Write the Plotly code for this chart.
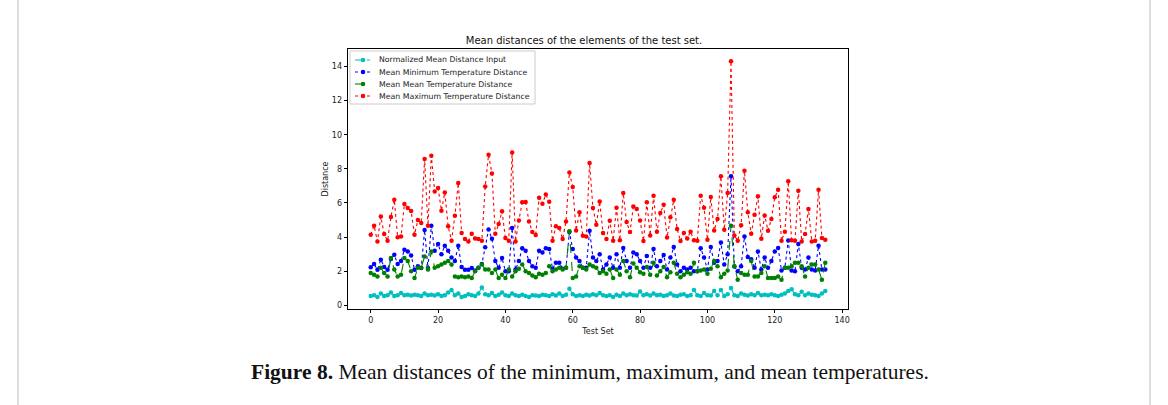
import plotly.graph_objects as go

test_set = list(range(136))

normalized_input = [
    0.55, 0.6, 0.5, 0.7, 0.55, 0.6, 0.75, 0.55, 0.6, 0.72,
    0.6, 0.62, 0.58, 0.62, 0.6, 0.55, 0.7, 0.6, 0.62, 0.58,
    0.65, 0.55, 0.6, 0.75, 0.9, 0.6, 0.7, 0.5, 0.55, 0.65,
    0.6, 0.55, 0.7, 1.05, 0.65, 0.6, 0.72, 0.55, 0.62, 0.75,
    0.6, 0.55, 0.7, 0.6, 0.55, 0.62, 0.55, 0.5, 0.6, 0.58,
    0.55, 0.62, 0.6, 0.55, 0.65, 0.58, 0.7, 0.55, 0.62, 0.98,
    0.65, 0.55, 0.6, 0.55, 0.62, 0.58, 0.65, 0.6, 0.72, 0.6,
    0.55, 0.6, 0.5, 0.62, 0.55, 0.7, 0.6, 0.65, 0.6, 0.58,
    0.82, 0.6, 0.65, 0.58, 0.7, 0.6, 0.62, 0.55, 0.6, 0.7,
    0.58, 0.55, 0.62, 0.65, 0.55, 0.6, 0.9, 0.6, 0.55, 0.72,
    0.6, 0.58, 0.85, 0.6, 0.9, 0.55, 0.65, 1.02, 0.6, 0.55,
    0.7, 0.62, 0.58, 0.65, 0.6, 0.72, 0.6, 0.62, 0.6, 0.65,
    0.6, 0.55, 0.62, 0.7, 0.85, 0.95, 0.65, 0.6, 0.8, 0.6,
    0.7, 0.62, 0.6, 0.55, 0.7, 0.85,
]

min_temp = [
    2.23, 2.42, 2.09, 2.68, 2.25, 2.09, 2.72, 2.97, 2.42, 2.6,
    3.26, 3.16, 2.93, 2.09, 2.29, 2.19, 4.42, 2.19, 4.67, 3.2,
    3.6, 3.0, 3.5, 3.2, 2.8, 2.6, 3.5, 2.25, 2.09, 2.09,
    2.19, 2.05, 2.2, 2.42, 3.4, 4.45, 3.9, 2.6, 2.2, 2.78,
    2.0, 2.0, 4.53, 2.1, 2.6, 3.35, 3.2, 2.6, 2.3, 2.2,
    3.2, 3.1, 3.35, 3.3, 2.15, 2.5, 2.5, 2.15, 2.2, 4.3,
    3.3, 2.8, 2.6, 2.2, 2.2, 4.37, 2.8, 2.6, 3.0, 2.1,
    2.4, 2.8, 2.2, 3.0, 2.2, 3.36, 2.6, 2.2, 3.1, 3.0,
    2.6, 2.2, 2.9, 2.2, 3.3, 2.3, 2.6, 2.95, 2.1, 2.8,
    3.42, 2.4, 2.0, 2.2, 2.1, 2.2, 2.0, 2.0, 3.35, 2.8,
    2.1, 3.42, 2.5, 2.6, 3.69, 2.4, 3.0, 7.56, 2.28, 2.0,
    2.3, 4.04, 2.83, 2.7, 2.2, 3.16, 2.1, 2.8, 2.2, 2.6,
    3.16, 3.36, 2.05, 2.2, 3.8, 2.05, 2.0, 3.6, 2.2, 2.1,
    2.8, 2.1, 2.05, 3.5, 2.1, 2.1,
]

mean_temp = [
    1.9, 1.8, 1.7, 2.2, 1.9, 1.7, 2.78, 2.1, 1.7, 1.8,
    2.78, 2.6, 2.0, 1.6, 2.2, 2.2, 2.87, 2.1, 3.16, 2.2,
    2.3, 2.4, 2.5, 2.6, 2.4, 1.7, 1.65, 1.7, 1.65, 1.7,
    1.6, 2.0, 2.2, 2.4, 2.1, 2.1, 1.9, 2.1, 1.6, 1.8,
    1.6, 2.1, 1.7, 2.0, 2.15, 2.4, 2.0, 1.9, 1.75, 1.65,
    1.85, 1.8, 1.9, 2.3, 2.0, 2.1, 2.2, 2.1, 2.2, 4.34,
    1.6, 1.7, 2.3, 2.2, 2.1, 2.4, 2.3, 2.2, 1.9, 2.0,
    1.85, 2.1, 1.6, 2.1, 1.8, 2.6, 2.0, 1.65, 2.45, 2.2,
    1.95, 1.85, 2.25, 1.8, 2.5, 1.75, 2.0, 2.25, 1.65, 1.95,
    2.5, 1.85, 1.65, 1.8, 1.95, 1.85, 2.5, 2.0, 2.05, 2.1,
    1.85, 2.15, 2.6, 2.3, 1.65, 1.85, 2.05, 4.67, 2.3, 1.5,
    1.9, 1.8, 1.8, 2.6, 1.7, 1.7, 1.9, 2.3, 1.6, 1.6,
    1.6, 1.7, 1.5, 2.2, 2.2, 2.3, 2.5, 2.5, 2.3, 1.7,
    2.2, 2.4, 2.4, 2.1, 1.5, 2.5,
]

max_temp = [
    4.14, 4.67, 3.75, 5.21, 4.18, 3.79, 5.18, 6.19, 4.0, 4.04,
    5.94, 5.7, 5.53, 4.14, 5.0, 4.83, 8.58, 4.67, 8.77, 6.68,
    6.88, 5.55, 6.62, 4.63, 3.79, 5.25, 7.17, 4.24, 3.89, 3.75,
    4.2, 3.92, 3.89, 3.79, 6.97, 8.83, 7.72, 4.2, 4.77, 5.51,
    3.95, 3.79, 8.96, 3.75, 4.98, 6.04, 6.06, 4.92, 4.3, 4.12,
    6.31, 5.96, 6.5, 6.07, 3.79, 4.63, 4.53, 3.89, 4.92, 7.79,
    6.94, 4.39, 5.45, 4.08, 4.04, 8.34, 5.7, 4.73, 6.09, 4.24,
    3.89, 4.96, 3.79, 5.72, 3.81, 6.58, 4.88, 4.3, 5.8, 5.65,
    4.98, 3.77, 6.04, 4.1, 6.43, 4.32, 5.41, 5.9, 3.98, 5.16,
    6.19, 4.47, 3.77, 4.24, 3.92, 4.32, 3.81, 3.79, 6.43, 5.72,
    3.85, 6.35, 4.39, 5.06, 7.56, 4.43, 6.58, 14.3, 4.1, 3.79,
    4.69, 7.89, 5.45, 4.2, 5.31, 6.39, 3.91, 5.27, 4.38, 5.06,
    6.33, 6.78, 3.79, 4.32, 7.27, 3.81, 3.79, 6.72, 3.75, 4.18,
    5.65, 3.75, 3.79, 6.78, 3.95, 3.85,
]

series_names = [
    "Normalized Mean Distance Input",
    "Mean Minimum Temperature Distance",
    "Mean Mean Temperature Distance",
    "Mean Maximum Temperature Distance",
]
x_ticks = [0, 20, 40, 60, 80, 100, 120, 140]
y_ticks = [0, 2, 4, 6, 8, 10, 12, 14]

colors = ["#00bfbf", "#0000ff", "#008000", "#ff0000"]
dashes = ["dashdot", "dot", "dash", "dot"]
values = [normalized_input, min_temp, mean_temp, max_temp]

# plot area geometry (pixels)
L, R, T, B = 348, 848, 49, 309
PW, PH = R - L, B - T


def px(x):
    return (x - L) / PW


def py(y):
    return (B - y) / PH


fig = go.Figure()
for name, vals, color, dash in zip(series_names, values, colors, dashes):
    fig.add_trace(go.Scatter(
        x=test_set, y=vals, name=name, mode="lines+markers",
        line=dict(color=color, width=1.1, dash=dash),
        marker=dict(color=color, size=4.5, symbol="circle"),
        showlegend=False,
    ))

font_family = "DejaVu Sans, Arial, sans-serif"
axis_common = dict(
    showline=True, linecolor="black", linewidth=0.8, mirror=True,
    ticks="outside", ticklen=3.5, tickwidth=0.8, tickcolor="black",
    showgrid=False, zeroline=False,
    tickfont=dict(family=font_family, size=8, color="#222"),
)

fig.update_layout(
    width=1168, height=405,
    margin=dict(l=L, r=1168 - R, t=T, b=405 - B),
    paper_bgcolor="white", plot_bgcolor="white",
    showlegend=False,
    title=dict(text="Mean distances of the elements of the test set.",
               x=px(598), xanchor="center", y=1 - 40 / 405, yanchor="middle",
               font=dict(family=font_family, size=10, color="#111")),
    xaxis=dict(range=[-6.75, 141.75], tickvals=x_ticks,
               title=dict(text="Test Set", standoff=4,
                          font=dict(family=font_family, size=8, color="#222")),
               **axis_common),
    yaxis=dict(range=[-0.21, 15.02], tickvals=y_ticks,
               title=dict(text="Distance", standoff=2,
                          font=dict(family=font_family, size=8, color="#222")),
               **axis_common),
)

# custom legend (matplotlib style)
fig.add_shape(type="rect", xref="paper", yref="paper",
              x0=px(350), x1=px(535), y0=py(104), y1=py(51),
              line=dict(color="#cccccc", width=1), fillcolor="rgba(255,255,255,0.85)",
              layer="above")
legend_rows = [60, 72, 84, 96]
for name, color, dash, ry in zip(series_names, colors, dashes, legend_rows):
    fig.add_shape(type="line", xref="paper", yref="paper",
                  x0=px(355), x1=px(371), y0=py(ry), y1=py(ry),
                  line=dict(color=color, width=1.1, dash=dash), layer="above")
    fig.add_shape(type="circle", xref="paper", yref="paper",
                  xsizemode="pixel", ysizemode="pixel",
                  xanchor=px(363), yanchor=py(ry),
                  x0=-2.3, x1=2.3, y0=-2.3, y1=2.3,
                  fillcolor=color, line=dict(color=color, width=0), layer="above")
    fig.add_annotation(text=name, xref="paper", yref="paper",
                       x=px(377), y=py(ry), xanchor="left", yanchor="middle",
                       showarrow=False,
                       font=dict(family=font_family, size=7.8, color="#222"))

fig.add_annotation(
    text="<b>Figure 8.</b> Mean distances of the minimum, maximum, and mean temperatures.",
    xref="paper", yref="paper", x=px(590), y=py(372), showarrow=False,
    xanchor="center", yanchor="middle",
    font=dict(family="Liberation Serif, Times New Roman, serif", size=21.5, color="#111"),
)

# outer page frame lines
for xp in [18, 1150]:
    fig.add_shape(type="line", xref="paper", yref="paper",
                  x0=px(xp), x1=px(xp), y0=py(420), y1=py(-10),
                  line=dict(color="#bbbbbb", width=1))

fig.write_html("out.html", config={"displayModeBar": False},
               post_script="document.body.style.margin='0';")
